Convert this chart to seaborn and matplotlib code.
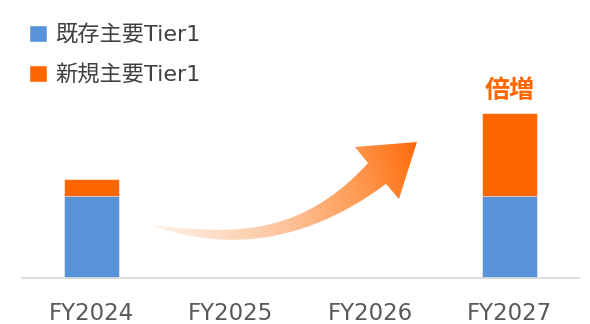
import numpy as np
import pandas as pd
import matplotlib
matplotlib.use("Agg")
import matplotlib.pyplot as plt
import seaborn as sns
from matplotlib.patches import Patch, PathPatch
from matplotlib.path import Path
from matplotlib.colors import LinearSegmentedColormap

# ---- data -------------------------------------------------------------
years = ["FY2024", "FY2025", "FY2026", "FY2027"]
existing_tier1 = [5.0, np.nan, np.nan, 5.0]
new_tier1 = [1.0, np.nan, np.nan, 5.05]
series_names = ["既存主要Tier1", "新規主要Tier1"]
callout = "倍増"

BLUE = "#5893d9"
ORANGE = "#ff6600"
AXIS_GRAY = "#d9d9d9"

sns.set_theme(style="white")
plt.rcParams["font.family"] = ["DejaVu Sans", "Noto Sans CJK JP"]

df = pd.DataFrame({"year": years, "existing": existing_tier1, "new": new_tier1})
df["total"] = df["existing"] + df["new"]

W, H = 590, 324
fig = plt.figure(figsize=(W / 100, H / 100), dpi=100)
base_px = 277.5
ax = fig.add_axes([22 / W, 1 - base_px / H, 557 / W, base_px / H])

# stacked bars: full height in orange, existing share in blue on top
sns.barplot(data=df, x="year", y="total", order=years, color=ORANGE,
            width=0.4, saturation=1, ax=ax, edgecolor="white", linewidth=0.4)
sns.barplot(data=df, x="year", y="existing", order=years, color=BLUE,
            width=0.4, saturation=1, ax=ax, edgecolor="white", linewidth=0.4)

ax.set_xlim(-0.5, len(years) - 0.5)
ax.set_ylim(0, base_px / 16.4)
ax.set_xlabel("")
ax.set_ylabel("")
ax.set_yticks([])
for side in ("top", "left", "right"):
    ax.spines[side].set_visible(False)
ax.spines["bottom"].set_color(AXIS_GRAY)
ax.spines["bottom"].set_linewidth(1.3)

ax.set_xticks(np.arange(-0.5, len(years)), minor=True)
ax.tick_params(axis="x", which="minor", length=9, width=1.3,
               color=AXIS_GRAY, direction="out")
ax.tick_params(axis="x", which="major", length=0, pad=18,
               labelsize=16.5, labelcolor="#595959")

# callout above the last bar
ax.annotate(callout, xy=(3, df["total"].iloc[3]), xytext=(0, 7),
            textcoords="offset points", ha="center", va="bottom",
            fontsize=18, fontweight="bold", color=ORANGE,
            family=["Noto Sans CJK JP"])

# legend
handles = [Patch(facecolor=BLUE, label=series_names[0]),
           Patch(facecolor=ORANGE, label=series_names[1])]
fig.legend(handles=handles, loc="upper left",
           bbox_to_anchor=(29 / W, 1 - 24 / H), frameon=False,
           fontsize=16, handlelength=0.8, handleheight=0.8,
           handletextpad=0.4, labelspacing=0.85, borderaxespad=0,
           borderpad=0, labelcolor="#404040")

# ---- curved growth arrow with a gradient fill ---------------------------
oax = fig.add_axes([0, 0, 1, 1], zorder=5)
oax.axis("off")

upper_pts = np.array([(153, 225), (223, 230), (273, 223), (323, 202), (368, 163)])
lower_pts = np.array([(153, 226), (223, 239), (273, 237), (323, 220), (386, 184)])
head_pts = [(355, 147), (417, 142), (399, 199)]

cu = np.polyfit(upper_pts[:, 0], upper_pts[:, 1], 3)
cl = np.polyfit(lower_pts[:, 0], lower_pts[:, 1], 3)
xu = np.linspace(upper_pts[0, 0], upper_pts[-1, 0], 60)
xl = np.linspace(lower_pts[-1, 0], lower_pts[0, 0], 60)
verts = list(zip(xu, np.polyval(cu, xu)))
verts += head_pts
verts += list(zip(xl, np.polyval(cl, xl)))
verts.append(verts[0])
codes = [Path.MOVETO] + [Path.LINETO] * (len(verts) - 2) + [Path.CLOSEPOLY]
arrow_patch = PathPatch(Path(verts, codes), facecolor="none", edgecolor="none")
oax.add_patch(arrow_patch)

gx, gy = np.meshgrid(np.linspace(140, 430, 300), np.linspace(130, 250, 130))
d = np.array([264.0, -88.0])
t = ((gx - 153) * d[0] + (gy - 230) * d[1]) / (d @ d)
t = np.clip(t, 0, 1)
cmap = LinearSegmentedColormap.from_list(
    "warm", [(0, "#fff3ea"), (0.45, "#fdc49c"), (0.75, "#fe9a52"), (1, "#ff6a0a")])
img = oax.imshow(t, cmap=cmap, vmin=0, vmax=1, extent=(140, 430, 250, 130),
                 origin="upper", aspect="auto", interpolation="bilinear")
img.set_clip_path(arrow_patch)
oax.set_xlim(0, W)
oax.set_ylim(H, 0)

fig.savefig("out.png", dpi=100)
